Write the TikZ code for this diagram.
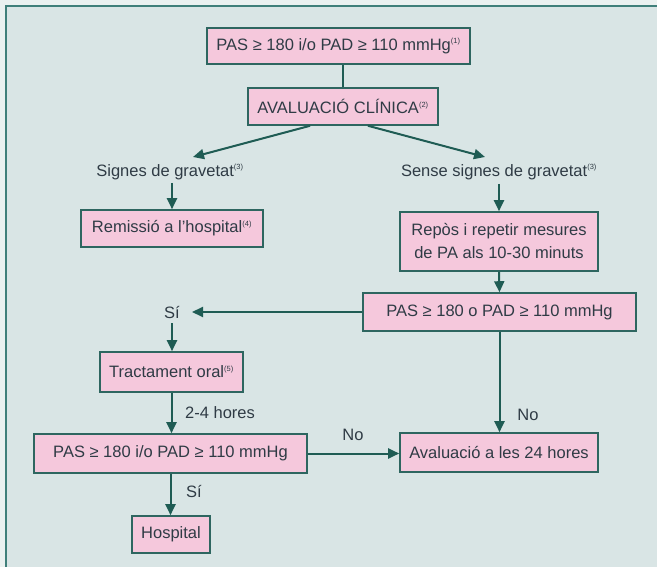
\documentclass[tikz,border=0pt]{standalone}
\usepackage{fontspec}
\setmainfont{Liberation Sans}
\usetikzlibrary{arrows.meta}

\definecolor{panelbg}{HTML}{D9E5E5}
\definecolor{outerbg}{HTML}{EAF1F0}
\definecolor{framecol}{HTML}{3F7F7A}
\definecolor{boxfill}{HTML}{F5C8DC}
\definecolor{boxline}{HTML}{2E6660}
\definecolor{ink}{HTML}{2F3B45}
\definecolor{flow}{HTML}{1F5C54}

% footnote call in superscript
\newcommand{\fnref}[1]{\textsuperscript{\fontsize{7.5}{7.5}\selectfont(#1)}}

\begin{document}
\begin{tikzpicture}[
  x=1pt, y=-1pt,
  txt/.style={text=ink, inner sep=0pt, font=\fontsize{16.5}{23}\selectfont, align=center},
  box/.style={txt, draw=boxline, line width=1.6pt, fill=boxfill},
  flowline/.style={draw=flow, line width=2pt},
  flowarrow/.style={flowline, -{Triangle[length=11pt,width=10pt]}}
]
\useasboundingbox (0,0) rectangle (657,567);

% panel background and frame
\fill[outerbg] (0,0) rectangle (657,567);
\fill[panelbg] (7,7) rectangle (657,567);
\draw[framecol, line width=2pt] (6,567) -- (6,6) -- (657,6);

% boxes
\node[box, minimum width=263pt, minimum height=36pt] (b1) at (338.5,46)
  {PAS ≥ 180 i/o PAD ≥ 110 mmHg\fnref{1}};
\node[box, minimum width=190pt, minimum height=37pt] (b2) at (343,106.5)
  {AVALUACIÓ CLÍNICA\fnref{2}};
\node[box, minimum width=182pt, minimum height=37pt] (rem) at (172,228.5)
  {Remissió a l'hospital\fnref{4}};
\node[box, minimum width=198pt, minimum height=59pt] (rep) at (499,241.5)
  {Repòs i repetir mesures\\de PA als 10-30 minuts};
\node[box, minimum width=273pt, minimum height=38pt] (pao) at (499.5,312)
  {PAS ≥ 180 o PAD ≥ 110 mmHg};
\node[box, minimum width=143pt, minimum height=40pt] (trac) at (171.5,372)
  {Tractament oral\fnref{5}};
\node[box, minimum width=273pt, minimum height=39pt] (pio) at (170.5,453.5)
  {PAS ≥ 180 i/o PAD ≥ 110 mmHg};
\node[box, minimum width=198pt, minimum height=39pt] (aval) at (499,452.5)
  {Avaluació a les 24 hores};
\node[box, minimum width=78pt, minimum height=37pt] (hosp) at (171,534.5)
  {Hospital};

% branch labels
\node[txt] (sg) at (170,172) {Signes de gravetat\fnref{3}};
\node[txt] (ssg) at (499,172) {Sense signes de gravetat\fnref{3}};
\node[txt] (si1) at (172,313) {Sí};
\node[txt, anchor=west] (hores) at (185,413) {2-4 hores};
\node[txt] (si2) at (194,492) {Sí};
\node[txt] (no1) at (528,415) {No};
\node[txt] (no2) at (353,435) {No};

% arrow ends next to the labels
\coordinate (sgtip) at (193,157);
\coordinate (ssgtip) at (485,157);
\coordinate (si1tip) at (192,312);

% connectors
\draw[flowline] (b2.north) -- (b2.north |- b1.south);
\draw[flowarrow] ([xshift=-33pt]b2.south) -- (sgtip);
\draw[flowarrow] ([xshift=25pt]b2.south) -- (ssgtip);
\draw[flowarrow] ([yshift=-3pt]sg.south -| rem.north) -- (rem.north);
\draw[flowarrow] ([yshift=-4pt]ssg.south -| rep.north) -- (rep.north);
\draw[flowarrow] (rep.south) -- (pao.north);
\draw[flowarrow] (pao.west) -- (si1tip);
\draw[flowarrow] ([yshift=-4pt]si1.south) -- (si1.south |- trac.north);
\draw[flowarrow] (trac.south) -- (trac.south |- pio.north);
\draw[flowarrow] (pao.south) -- (pao.south |- aval.north);
\draw[flowarrow] (pio.east) -- (pio.east -| aval.west);
\draw[flowarrow] (pio.south) -- (pio.south |- hosp.north);
\end{tikzpicture}
\end{document}
